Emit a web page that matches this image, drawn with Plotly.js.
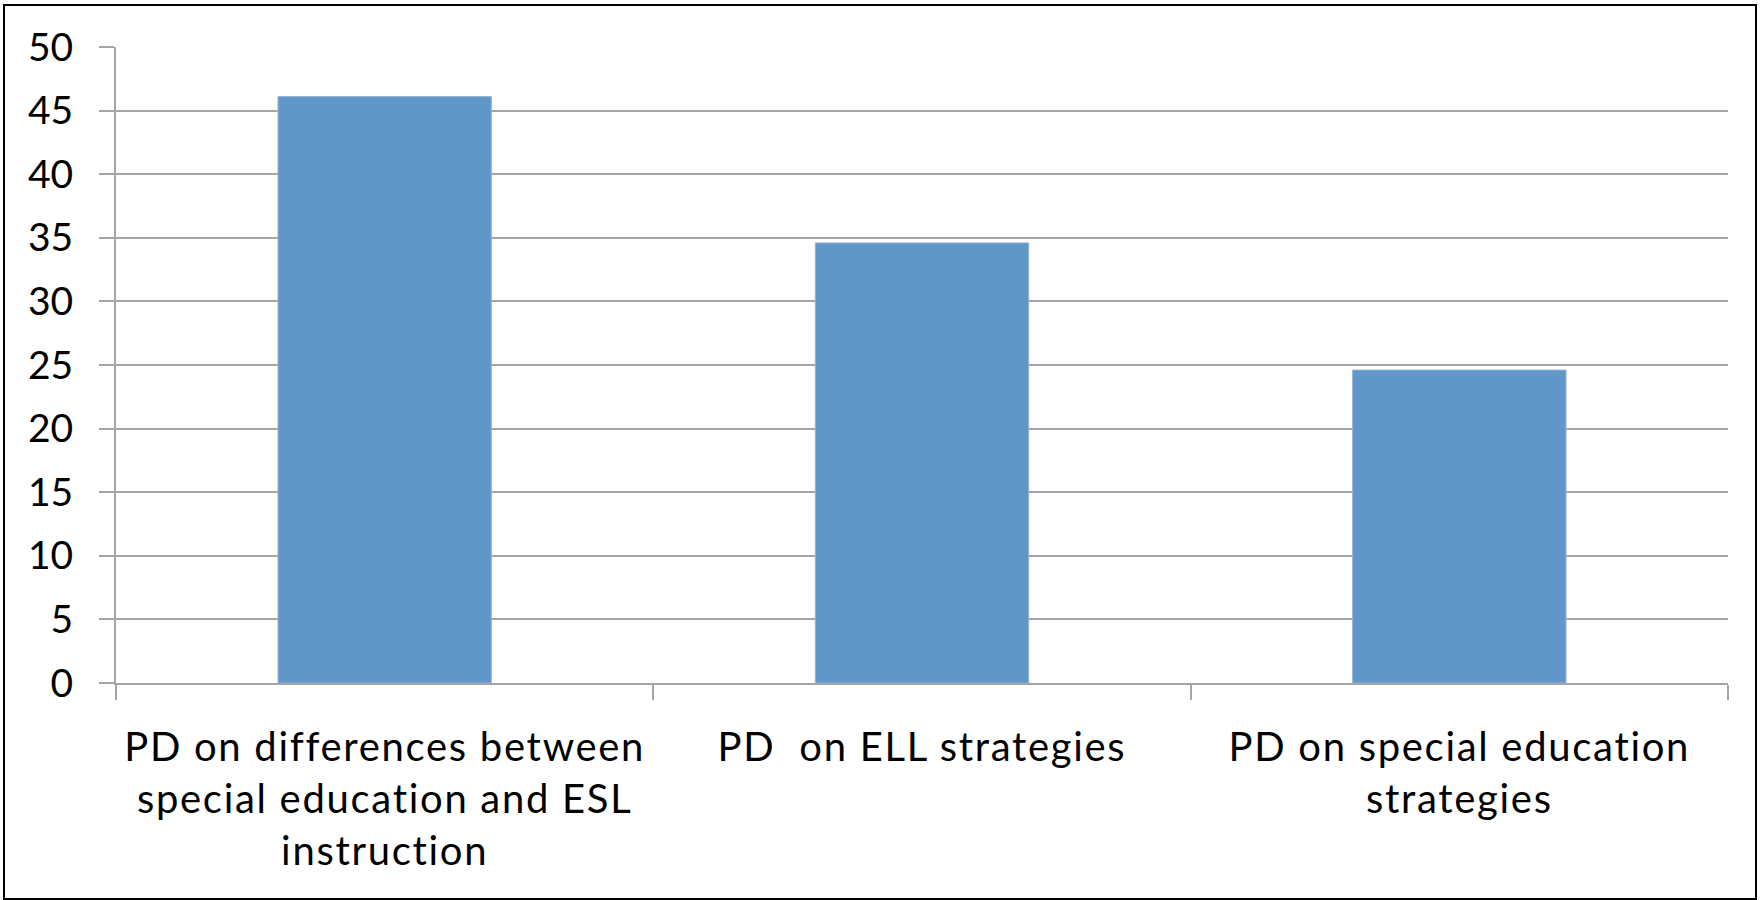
<!DOCTYPE html>
<html>
<head>
<meta charset="utf-8">
<script src="https://cdn.plot.ly/plotly-3.0.1.min.js"></script>
<style>
  html, body { margin: 0; padding: 0; background: #ffffff; }
  #wrap { position: relative; width: 1760px; height: 900px; overflow: hidden; }
  #chart { position: absolute; left: 0; top: 0; width: 1760px; height: 900px; }
  #chart .xtick text { letter-spacing: 1.7px; }
  #frame {
    position: absolute; left: 3px; top: 4px; width: 1750px; height: 892px;
    border: 2px solid #000000; pointer-events: none;
  }
</style>
</head>
<body>
<div id="wrap">
  <div id="chart"></div>
  <div id="frame"></div>
</div>
<script>
// Categories of professional development and their values
const categories = [
  'PD on differences between<br>special education and ESL<br>instruction',
  'PD\u00a0 on ELL strategies',
  'PD on special education<br>strategies'
];
const values = [46.1, 34.6, 24.6];

const gridGrey = '#a5a5a5';
const fontFamily = 'Lato, "Open Sans", sans-serif';

const trace = {
  type: 'bar',
  x: categories,
  y: values,
  marker: { color: '#6196c9', line: { color: '#8fb4dc', width: 1 } },
  hoverinfo: 'x+y'
};

const layout = {
  width: 1760,
  height: 900,
  margin: { l: 116, r: 32, t: 47, b: 217 },
  paper_bgcolor: 'rgba(0,0,0,0)',
  plot_bgcolor: '#ffffff',
  showlegend: false,
  bargap: 0.603,
  font: { family: fontFamily, size: 39, color: '#000000' },
  xaxis: {
    type: 'category',
    showline: true,
    linecolor: gridGrey,
    linewidth: 2,
    ticks: 'outside',
    tickson: 'boundaries',
    ticklen: 15,
    tickwidth: 2,
    tickcolor: gridGrey,
    showgrid: false,
    zeroline: false,
    ticklabelstandoff: 28,
    tickfont: { family: fontFamily, size: 40, color: '#000000' }
  },
  yaxis: {
    range: [0, 50],
    tick0: 0,
    dtick: 5,
    showline: true,
    linecolor: gridGrey,
    linewidth: 2,
    ticks: 'outside',
    ticklen: 15,
    tickwidth: 2,
    tickcolor: gridGrey,
    showgrid: true,
    gridcolor: gridGrey,
    gridwidth: 2,
    zeroline: false,
    ticklabelstandoff: 18,
    tickfont: { family: fontFamily, size: 39, color: '#000000' }
  }
};

Plotly.newPlot('chart', [trace], layout, { displayModeBar: false, staticPlot: true });
</script>
</body>
</html>
